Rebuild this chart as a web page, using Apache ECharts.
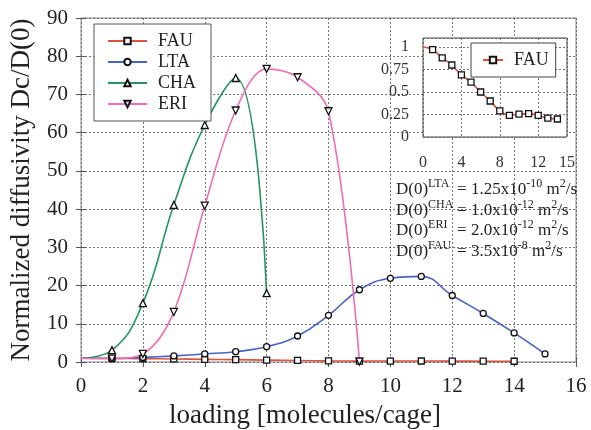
<!DOCTYPE html>
<html>
<head>
<meta charset="utf-8">
<script src="https://cdn.jsdelivr.net/npm/echarts@6/dist/echarts.min.js"></script>
<style>html,body{margin:0;padding:0;background:#fff}#c{width:591px;height:430px}</style>
</head>
<body>
<div id="c"></div>
<script>
// ---- data ----
const seriesNames = ['FAU', 'LTA', 'CHA', 'ERI'];
const loadingFAU = [0, 1, 2, 3, 4, 5, 6, 7, 8, 9, 10, 11, 12, 13, 14];
const valuesFAU = [1.0, 0.97, 0.88, 0.80, 0.69, 0.61, 0.50, 0.40, 0.29, 0.24, 0.255, 0.26, 0.24, 0.21, 0.20];
const loadingLTA = [0, 1, 2, 3, 4, 5, 6, 7, 8, 9, 10, 11, 12, 13, 14, 15];
const valuesLTA = [1.0, 0.9, 1.2, 1.6, 2.1, 2.7, 4.0, 6.8, 12.2, 18.9, 21.9, 22.4, 17.4, 12.7, 7.6, 2.1];
const loadingCHA = [0, 1, 2, 3, 4, 5, 6];
const valuesCHA = [1.0, 3.1, 15.4, 41.1, 62.0, 74.3, 18.0];
const loadingERI = [0, 1, 2, 3, 4, 5, 6, 7, 8, 9];
const valuesERI = [1.0, 0.9, 2.1, 13.1, 40.9, 65.8, 76.7, 74.5, 65.6, 0.1];
const xTicksMain = [0, 16, 2];
const yTicksMain = [0, 90, 10];
const xTicksInset = [0, 15, 4];
const yTicksInset = [0, 1.1, 0.25];
const d0Labels = ['LTA', 'CHA', 'ERI', 'FAU'];
const d0Mantissa = ['1.25', '1.0', '2.0', '3.5'];
const d0Exponent = ['-10', '-12', '-12', '-8'];

// ---- styling ----
const FONT = '"Liberation Serif", "DejaVu Serif", serif';
const colors = { FAU: '#d9533f', LTA: '#4a62c4', CHA: '#23965a', ERI: '#f06cb4' };
const symbols = { FAU: 'rect', LTA: 'circle', CHA: 'triangle', ERI: 'triangle' };
const rot = { FAU: 0, LTA: 0, CHA: 0, ERI: 180 };
const sizes = { FAU: 6, LTA: 6, CHA: 7, ERI: 7 };
const smoothness = { FAU: 0.4, LTA: 0.45, CHA: 0.45, ERI: 0.35 };

function pts(xs, vs) {
  return xs.map((x, i) => i === 0 ? { value: [x, vs[i]], symbol: 'none' } : [x, vs[i]]);
}
const dataMap = {
  FAU: pts(loadingFAU, valuesFAU),
  LTA: pts(loadingLTA, valuesLTA),
  CHA: pts(loadingCHA, valuesCHA),
  ERI: pts(loadingERI, valuesERI)
};

function mkSeries(name, xi, yi, z) {
  return {
    name: name, type: 'line', xAxisIndex: xi, yAxisIndex: yi, z: z,
    data: dataMap[name], smooth: smoothness[name],
    symbol: symbols[name], symbolSize: sizes[name], symbolRotate: rot[name],
    lineStyle: { color: colors[name], width: 1.6 },
    itemStyle: { color: '#fff', borderColor: '#111', borderWidth: 1.3 },
    emphasis: { disabled: true }, silent: true
  };
}

const split = { show: true, lineStyle: { color: '#555', width: 0.8, type: [2, 2] } };
const tick = { show: true, inside: true, length: 5, lineStyle: { color: '#555' } };

const d0Text = d0Labels.map((n, i) =>
  '{a|D(0)}{s|' + n + '}{b|= ' + d0Mantissa[i] + 'x10}{e|' + d0Exponent[i] + '}{a| m}{e|2}{a|/s}'
).join('\n');

const option = {
  animation: false,
  backgroundColor: '#fff',
  textStyle: { fontFamily: FONT, color: '#222' },
  grid: [
    { left: 81, top: 18, width: 495, height: 344, outerBoundsMode: 'none', containLabel: false,
      show: true, borderColor: '#888', borderWidth: 1, backgroundColor: '#fff', z: 0 },
    { left: 423, top: 38, width: 144, height: 99, outerBoundsMode: 'none', containLabel: false,
      show: true, borderColor: '#444', borderWidth: 1, backgroundColor: '#fff', z: 5 }
  ],
  xAxis: [
    { gridIndex: 0, type: 'value', min: xTicksMain[0], max: xTicksMain[1], interval: xTicksMain[2],
      axisLine: { show: false }, axisTick: tick, splitLine: split,
      axisLabel: { fontFamily: FONT, fontSize: 21, color: '#222', margin: 14 },
      name: 'loading [molecules/cage]', nameLocation: 'middle', nameGap: 40,
      nameTextStyle: { fontFamily: FONT, fontSize: 27, color: '#222', padding: [0, 47, 0, 0] } },
    { gridIndex: 1, type: 'value', min: xTicksInset[0], max: xTicksInset[1], interval: xTicksInset[2], z: 6,
      axisLine: { show: false }, axisTick: { show: false }, splitLine: split,
      axisLabel: { fontFamily: FONT, fontSize: 16, color: '#333', margin: 18, showMaxLabel: true } },
    { gridIndex: 0, type: 'value', position: 'top', min: xTicksMain[0], max: xTicksMain[1], interval: xTicksMain[2],
      axisLine: { show: false }, axisTick: tick, splitLine: { show: false }, axisLabel: { show: false } }
  ],
  yAxis: [
    { gridIndex: 0, type: 'value', min: yTicksMain[0], max: yTicksMain[1], interval: yTicksMain[2],
      axisLine: { show: false }, axisTick: tick, splitLine: split,
      axisLabel: { fontFamily: FONT, fontSize: 21, color: '#222', margin: 13 },
      name: 'Normalized diffusivity Dc/D(0)', nameLocation: 'middle', nameGap: 46,
      nameTextStyle: { fontFamily: FONT, fontSize: 27, color: '#222' } },
    { gridIndex: 1, type: 'value', min: yTicksInset[0], max: yTicksInset[1], interval: yTicksInset[2], z: 6,
      axisLine: { show: false }, axisTick: { show: false }, splitLine: split,
      axisLabel: { fontFamily: FONT, fontSize: 16, color: '#333', margin: 14,
        formatter: v => (v > 1.05 ? '' : String(v)) } },
    { gridIndex: 0, type: 'value', position: 'right', min: yTicksMain[0], max: yTicksMain[1], interval: yTicksMain[2],
      axisLine: { show: false }, axisTick: tick, splitLine: { show: false }, axisLabel: { show: false } }
  ],
  legend: [
    { data: seriesNames, orient: 'vertical', left: 94, top: 24, itemGap: 3, itemWidth: 39, itemHeight: 8,
      padding: [8, 15, 8, 13], borderColor: '#555', borderWidth: 1, backgroundColor: '#fff',
      textStyle: { fontFamily: FONT, fontSize: 18, color: '#222', padding: [0, 0, 0, 6] }, selectedMode: false, z: 8 },
    { data: ['FAU'], orient: 'vertical', left: 471, top: 43, itemWidth: 20, itemHeight: 8,
      padding: [8, 7, 8, 11], borderColor: '#444', borderWidth: 1, backgroundColor: '#fff',
      textStyle: { fontFamily: FONT, fontSize: 18, color: '#222', padding: [0, 0, 0, 6] }, selectedMode: false, z: 9 }
  ],
  series: [
    mkSeries('FAU', 0, 0, 2), mkSeries('LTA', 0, 0, 2), mkSeries('CHA', 0, 0, 2), mkSeries('ERI', 0, 0, 2),
    mkSeries('FAU', 1, 1, 7)
  ],
  graphic: [
    { type: 'text', left: 396, top: 178, z: 10,
      style: {
        text: d0Text, fontFamily: FONT, fill: '#222',
        rich: {
          a: { fontFamily: FONT, fontSize: 17, lineHeight: 20.5, verticalAlign: 'bottom' },
          s: { fontFamily: FONT, fontSize: 12, lineHeight: 12, verticalAlign: 'top', width: 29 },
          b: { fontFamily: FONT, fontSize: 17, lineHeight: 20.5, verticalAlign: 'bottom' },
          e: { fontFamily: FONT, fontSize: 12, lineHeight: 12, verticalAlign: 'top' }
        }
      } }
  ]
};

const chart = echarts.init(document.getElementById('c'), null, { renderer: 'canvas' });
chart.setOption(option);
</script>
</body>
</html>
